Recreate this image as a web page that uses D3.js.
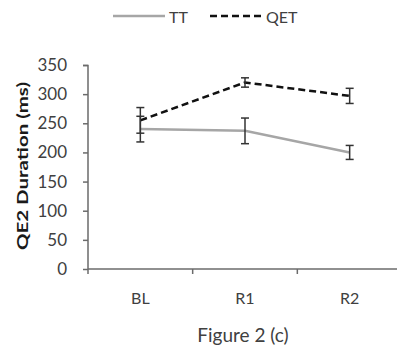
<!DOCTYPE html>
<html>
<head>
<meta charset="utf-8">
<script src="https://cdn.jsdelivr.net/npm/d3@7"></script>
<style>
  html, body { margin: 0; padding: 0; background: #fff; overflow: hidden; }
  svg { display: block; }
  svg text { font-family: Lato, "Open Sans", sans-serif; fill: #404040; }
</style>
</head>
<body>
<div id="chart"></div>
<script>
const categories = ['BL', 'R1', 'R2'];
const ttValues = [240, 237, 200];
const ttErrors = [22, 22, 12];
const qetValues = [255, 320, 297];
const qetErrors = [22, 8, 13];
const yTicks = [0, 50, 100, 150, 200, 250, 300, 350];

const width = 397, height = 354;
const margin = { top: 65, right: -5, bottom: 85, left: 88 };
const innerWidth = width - margin.left - margin.right;
const innerHeight = height - margin.top - margin.bottom;

const svg = d3.select('#chart')
  .append('svg')
  .attr('width', width)
  .attr('height', height);

const g = svg.append('g')
  .attr('transform', `translate(${margin.left}, ${margin.top})`);

const x = d3.scaleBand()
  .domain(categories)
  .range([0, innerWidth])
  .paddingInner(0)
  .paddingOuter(0);

const y = d3.scaleLinear()
  .domain([0, 350])
  .range([innerHeight, 0]);

// y axis (ticks from d3, labels drawn separately)
const yAxis = g.append('g')
  .call(d3.axisLeft(y).tickValues(yTicks).tickSize(5).tickFormat(''));
yAxis.selectAll('line, path').attr('stroke', '#6b6b6b').attr('stroke-width', 1.5);
yAxis.select('.domain').attr('d', `M-5,0.5H0V${innerHeight}`);
yAxis.selectAll('text').remove();

g.selectAll('.ylabel')
  .data(yTicks)
  .enter()
  .append('text')
  .attr('class', 'ylabel')
  .attr('x', -21)
  .attr('y', d => y(d))
  .attr('dy', '0.35em')
  .attr('text-anchor', 'end')
  .style('font-size', '17px')
  .text(d => d);

// x axis with ticks at band boundaries
const xAxis = g.append('g')
  .attr('transform', `translate(0, ${innerHeight})`);
xAxis.append('line')
  .attr('x1', 0).attr('x2', innerWidth)
  .attr('stroke', '#6b6b6b').attr('stroke-width', 1.5);
xAxis.selectAll('.xtick')
  .data(categories.concat(['end']))
  .enter()
  .append('line')
  .attr('class', 'xtick')
  .attr('x1', (d, i) => i * x.bandwidth())
  .attr('x2', (d, i) => i * x.bandwidth())
  .attr('y1', 0).attr('y2', 5)
  .attr('stroke', '#6b6b6b').attr('stroke-width', 1.5);
xAxis.selectAll('.xlabel')
  .data(categories)
  .enter()
  .append('text')
  .attr('class', 'xlabel')
  .attr('x', d => x(d) + x.bandwidth() / 2)
  .attr('y', 35)
  .attr('text-anchor', 'middle')
  .style('font-size', '16px')
  .text(d => d);

const cx = d => x(d) + x.bandwidth() / 2;

function drawSeries(values, errors, color, dash) {
  const data = categories.map((c, i) => [c, values[i], errors[i]]);
  const line = d3.line()
    .x(d => cx(d[0]))
    .y(d => y(d[1]));
  g.append('path')
    .datum(data)
    .attr('fill', 'none')
    .attr('stroke', color)
    .attr('stroke-width', 2.5)
    .attr('stroke-dasharray', dash)
    .attr('d', line);

  const eb = g.append('g');
  data.forEach(d => {
    const px = cx(d[0]);
    const y0 = y(d[1] - d[2]), y1 = y(d[1] + d[2]);
    eb.append('line').attr('x1', px).attr('x2', px).attr('y1', y0).attr('y2', y1);
    eb.append('line').attr('x1', px - 4).attr('x2', px + 4).attr('y1', y0).attr('y2', y0);
    eb.append('line').attr('x1', px - 4).attr('x2', px + 4).attr('y1', y1).attr('y2', y1);
  });
  eb.selectAll('line').attr('stroke', '#333').attr('stroke-width', 1.5);
}

drawSeries(ttValues, ttErrors, '#a6a6a6', null);
drawSeries(qetValues, qetErrors, '#111', '7,4');

// y title
svg.append('text')
  .attr('transform', `translate(28, ${margin.top + innerHeight / 2 - 1}) rotate(-90)`)
  .attr('text-anchor', 'middle')
  .attr('textLength', 168)
  .attr('lengthAdjust', 'spacingAndGlyphs')
  .style('font-size', '16px')
  .style('font-weight', 'bold')
  .style('fill', '#1a1a1a')
  .text('QE2 Duration (ms)');

// legend
const legend = svg.append('g').attr('transform', 'translate(0, 16)');
legend.append('line')
  .attr('x1', 113).attr('x2', 165).attr('y1', 0).attr('y2', 0)
  .attr('stroke', '#a6a6a6').attr('stroke-width', 2.5);
legend.append('text')
  .attr('x', 169).attr('y', 7)
  .style('font-size', '16px')
  .text('TT');
legend.append('line')
  .attr('x1', 210).attr('x2', 263).attr('y1', 0).attr('y2', 0)
  .attr('stroke', '#111').attr('stroke-width', 2.5)
  .attr('stroke-dasharray', '7,4');
legend.append('text')
  .attr('x', 266).attr('y', 7)
  .style('font-size', '16px')
  .text('QET');

// caption
svg.append('text')
  .attr('x', 243).attr('y', 342)
  .attr('text-anchor', 'middle')
  .style('font-size', '19px')
  .text('Figure 2 (c)');
</script>
</body>
</html>
